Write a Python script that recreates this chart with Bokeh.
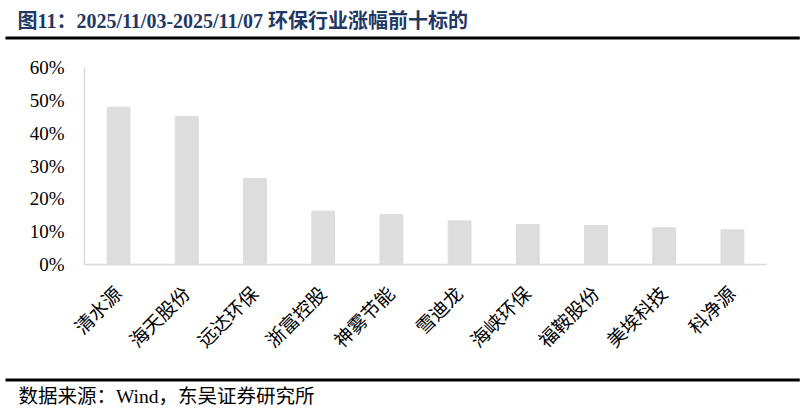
import math

from bokeh.embed import file_html
from bokeh.models import FixedTicker, NumeralTickFormatter, Range1d, Title
from bokeh.plotting import figure
from bokeh.resources import INLINE

# data
stocks = ["清水源", "海天股份", "远达环保", "浙富控股", "神雾节能",
          "雪迪龙", "海峡环保", "福鞍股份", "美埃科技", "科净源"]
gains = [0.479, 0.451, 0.262, 0.162, 0.152, 0.133, 0.122, 0.119, 0.112, 0.106]
y_ticks = [0, 0.1, 0.2, 0.3, 0.4, 0.5, 0.6]

title_text = "图11：2025/11/03-2025/11/07 环保行业涨幅前十标的"
source_text = "数据来源：Wind，东吴证券研究所"

W, H = 805, 413
LEFT, RIGHT, TOP, BOTTOM = 84, 766, 67, 264
SERIF = "'Liberation Serif', 'Noto Sans CJK SC'"

p = figure(x_range=stocks, y_range=Range1d(0, 0.6), width=W, height=H,
           title=None, output_backend="svg", toolbar_location=None,
           min_border_left=LEFT, min_border_right=W - RIGHT,
           min_border_top=TOP, min_border_bottom=H - BOTTOM,
           outline_line_color=None)
p.vbar(x=stocks, top=gains, width=0.335, color="#DDDDDD")

p.grid.visible = False
p.yaxis.ticker = FixedTicker(ticks=y_ticks)
p.yaxis.formatter = NumeralTickFormatter(format="0%")
p.yaxis.major_label_text_font = SERIF
p.yaxis.major_label_text_font_size = "19px"
p.yaxis.major_label_text_color = "black"
p.yaxis.major_label_standoff = 14
p.xaxis.major_label_text_font = SERIF
p.xaxis.major_label_text_font_size = "19px"
p.xaxis.major_label_text_color = "black"
p.xaxis.major_label_orientation = math.pi / 4
p.xaxis.major_label_standoff = 20
p.axis.axis_line_color = "#D9D9D9"
p.axis.axis_line_width = 1.5
p.axis.major_tick_line_color = None
p.axis.minor_tick_line_color = None


def spacer(standoff):
    return Title(text=" ", text_font_size="1px", standoff=standoff)


def rule():
    # a thin black bar made from an empty title box
    t = Title(text=" ", text_font_size="1px", align="left", offset=5 - LEFT,
              standoff=0)
    try:
        t.background_fill_color = "black"
        t.padding = dict(left=397, right=397, top=1, bottom=1)
    except Exception:
        pass
    return t


# header (listed from the frame outwards)
p.add_layout(spacer(25), "above")
p.add_layout(rule(), "above")
p.add_layout(Title(text=title_text, text_font=SERIF, text_font_size="20px",
                   text_font_style="bold", text_color="#1F3864",
                   align="left", offset=17 - LEFT, standoff=5), "above")

# footer below the axis
p.add_layout(spacer(11), "below")
p.add_layout(rule(), "below")
p.add_layout(Title(text=source_text, text_font=SERIF, text_font_size="19.5px",
                   text_font_style="normal", text_color="black",
                   align="left", offset=18 - LEFT, standoff=4), "below")

open("out.html", "w").write(file_html(p, INLINE))
